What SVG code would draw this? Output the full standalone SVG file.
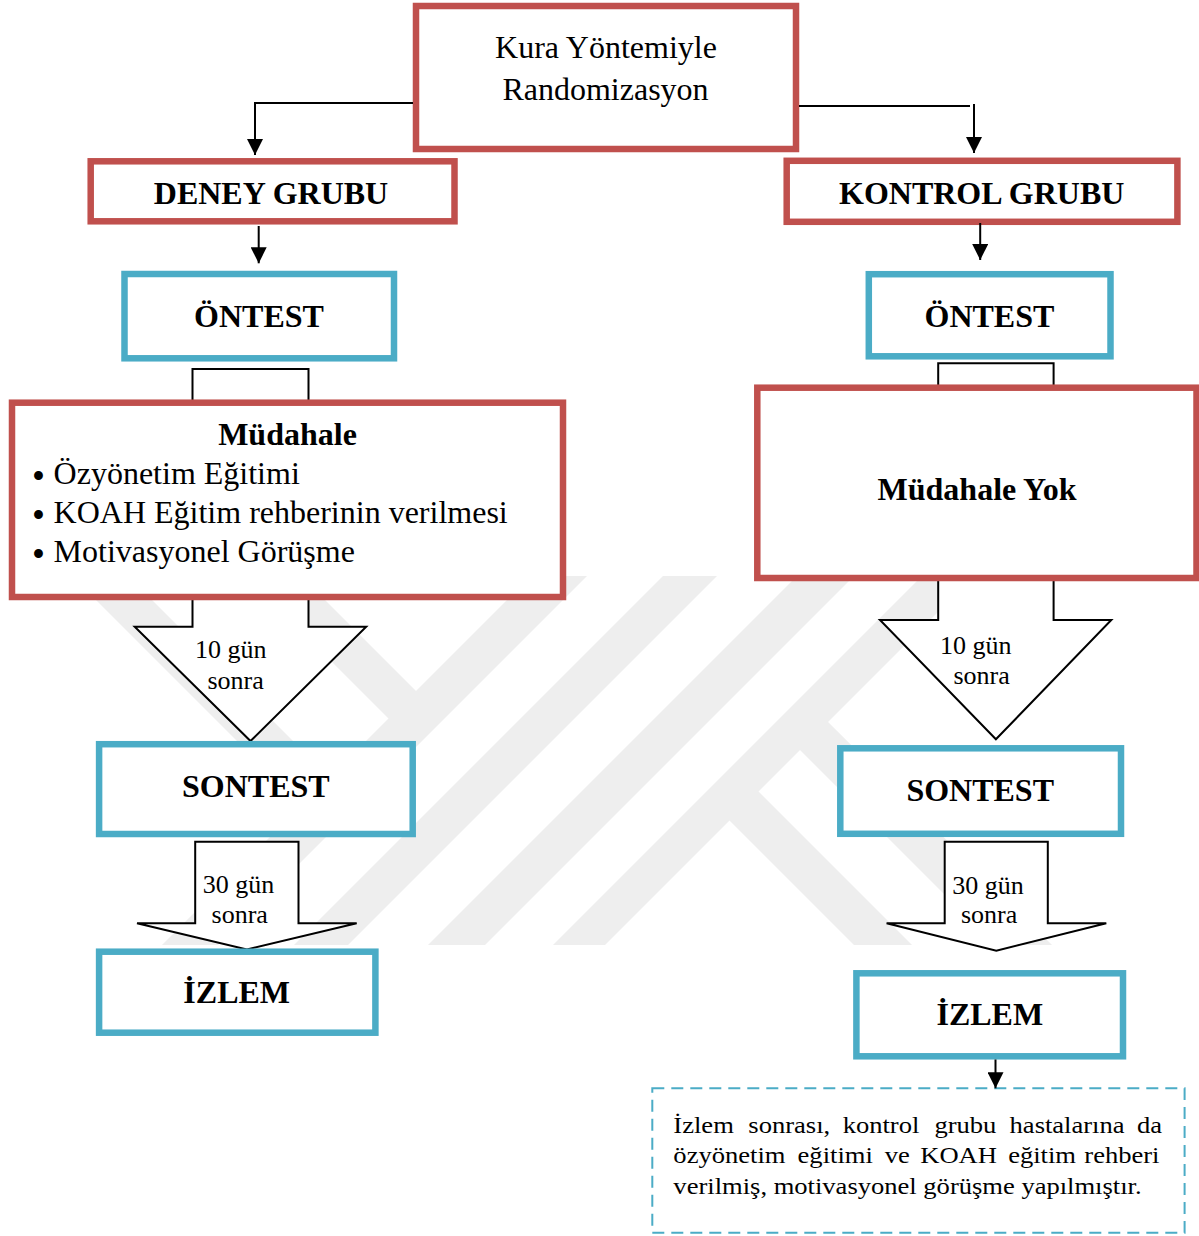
<svg xmlns="http://www.w3.org/2000/svg" width="1199" height="1236" viewBox="0 0 1199 1236">
<style>
.red{fill:#fff;stroke:#c0504d;stroke-width:6.5}
.blue{fill:#fff;stroke:#4bacc6;stroke-width:6.5}
.blk{fill:#fff;stroke:#000;stroke-width:2;stroke-linejoin:miter}
.ln{fill:none;stroke:#000;stroke-width:2}
.t{font-family:"Liberation Serif","Times New Roman",serif;fill:#000}
.b{font-weight:bold;font-size:32px;text-anchor:middle}
.n32{font-size:32px}
.n26{font-size:26px}
.n24{font-size:24px}
.bul{font-size:37px}
.wm{fill:#eeeeee}
</style>
<defs>
<clipPath id="wmclip"><rect x="0" y="576" width="1199" height="369"/></clipPath>
<marker id="ah" markerUnits="userSpaceOnUse" markerWidth="16" markerHeight="16" viewBox="0 0 16 16" refX="16" refY="8" orient="auto">
<path d="M0,0 L16,8 L0,16 Z" fill="#000"/>
</marker>
</defs>
<rect width="1199" height="1236" fill="#fff"/>
<g id="watermark" clip-path="url(#wmclip)">
<polygon class="wm" points="531,576 587,576 218,945 162,945"/>
<polygon class="wm" points="663,576 717,576 348,945 294,945"/>
<polygon class="wm" points="797,576 854,576 485,945 428,945"/>
<polygon class="wm" points="922,576 974,576 605,945 553,945"/>
<polygon class="wm" points="72,576 128,576 331,779 303,807"/>
<polygon class="wm" points="246,576 301,576 430,705 402.5,732.5"/>
<polygon class="wm" points="716.5,807.5 745.5,778.5 912,945 854,945"/>
<polygon class="wm" points="786,736 814,708 1052,945 995,945"/>
</g>
<g id="arrow-10-left">
<polygon class="blk" points="192.5,369 308.5,369 308.5,626.7 366.2,626.7 250.5,741 134.7,626.7 192.5,626.7"/>
<text class="t n26" x="195" y="658.3">10 gün</text>
<text class="t n26" x="207.5" y="689">sonra</text>
</g>
<g id="arrow-10-right">
<polygon class="blk" points="938.2,363.3 1053.6,363.3 1053.6,620 1111.3,620 995.9,739.3 880,620 938.2,620"/>
<text class="t n26" x="940" y="654">10 gün</text>
<text class="t n26" x="953.5" y="683.5">sonra</text>
</g>
<g id="arrow-30-left">
<polygon class="blk" points="195.2,841.7 298.5,841.7 298.5,923.3 356.7,923.3 246.9,949.5 137,923.3 195.2,923.3"/>
<text class="t n26" x="202.8" y="893.3">30 gün</text>
<text class="t n26" x="211.6" y="923.3">sonra</text>
</g>
<g id="arrow-30-right">
<polygon class="blk" points="944.7,841.7 1047.8,841.7 1047.8,923.3 1106.3,923.3 996.3,950.7 886.6,923.3 944.7,923.3"/>
<text class="t n26" x="952.3" y="894">30 gün</text>
<text class="t n26" x="961" y="923.3">sonra</text>
</g>
<g id="randomizasyon">
<rect class="red" x="416" y="6" width="380" height="143"/>
<text class="t n32" x="606" y="58" text-anchor="middle">Kura Yöntemiyle</text>
<text class="t n32" x="605.5" y="100" text-anchor="middle">Randomizasyon</text>
</g>
<g id="deney-grubu">
<rect class="red" x="90.7" y="161.3" width="363.8" height="60"/>
<text class="t b" x="271" y="203.5">DENEY GRUBU</text>
</g>
<g id="kontrol-grubu">
<rect class="red" x="786.7" y="160.8" width="390.7" height="61"/>
<text class="t b" x="981.7" y="203.5">KONTROL GRUBU</text>
</g>
<g id="ontest-left">
<rect class="blue" x="124.5" y="274" width="269.5" height="84.3"/>
<text class="t b" x="259" y="327">ÖNTEST</text>
</g>
<g id="ontest-right">
<rect class="blue" x="868.8" y="274.2" width="241.7" height="82.1"/>
<text class="t b" x="989.4" y="327">ÖNTEST</text>
</g>
<g id="mudahale">
<rect class="red" x="12" y="402.7" width="551" height="194.3"/>
<text class="t b" x="287.5" y="445">Müdahale</text>
<text class="t n32" y="484"><tspan class="bul" x="32" dy="5">•</tspan><tspan x="53.6" dy="-5">Özyönetim Eğitimi</tspan></text>
<text class="t n32" y="523.3"><tspan class="bul" x="32" dy="5">•</tspan><tspan x="53.6" dy="-5">KOAH Eğitim rehberinin verilmesi</tspan></text>
<text class="t n32" y="561.7"><tspan class="bul" x="32" dy="5">•</tspan><tspan x="53.6" dy="-5">Motivasyonel Görüşme</tspan></text>
</g>
<g id="mudahale-yok">
<rect class="red" x="757.3" y="387.7" width="439.2" height="190.3"/>
<text class="t b" x="977" y="500">Müdahale Yok</text>
</g>
<g id="sontest-left">
<rect class="blue" x="99.1" y="744.2" width="313.6" height="89.8"/>
<text class="t b" x="255.8" y="797.3">SONTEST</text>
</g>
<g id="sontest-right">
<rect class="blue" x="840.3" y="748.3" width="280.7" height="85.5"/>
<text class="t b" x="980.2" y="801">SONTEST</text>
</g>
<g id="izlem-left">
<rect class="blue" x="99.1" y="951.7" width="276.3" height="81"/>
<text class="t b" x="236.7" y="1003.3">İZLEM</text>
</g>
<g id="izlem-right">
<rect class="blue" x="856.4" y="973.3" width="266.6" height="83"/>
<text class="t b" x="989.8" y="1025">İZLEM</text>
</g>
<g id="note">
<rect x="652.3" y="1088.3" width="532.3" height="144.4" fill="#fff" stroke="#4bacc6" stroke-width="2" stroke-dasharray="12,7"/>
<g transform="matrix(1.107 0 0 1 0 0)">
<text class="t n24" y="1133.3"><tspan x="608.3">İzlem</tspan><tspan x="676">sonrası,</tspan><tspan x="761.2">kontrol</tspan><tspan x="844.1">grubu</tspan><tspan x="912">hastalarına</tspan><tspan x="1027">da</tspan></text>
<text class="t n24" y="1163.3"><tspan x="608.3">özyönetim</tspan><tspan x="720.5">eğitimi</tspan><tspan x="799.2">ve</tspan><tspan x="831.3">KOAH</tspan><tspan x="910.7">eğitim</tspan><tspan x="979.5">rehberi</tspan></text>
<text class="t n24" x="608.3" y="1194">verilmiş, motivasyonel görüşme yapılmıştır.</text>
</g>
</g>
<g id="connectors">
<path class="ln" d="M413,103 H255 V155" marker-end="url(#ah)"/>
<path class="ln" d="M799,106 H970"/>
<path class="ln" d="M974,104 V153" marker-end="url(#ah)"/>
<path class="ln" d="M258.7,226 V263.3" marker-end="url(#ah)"/>
<path class="ln" d="M980.2,223 V260" marker-end="url(#ah)"/>
<path class="ln" d="M995.5,1059.5 V1088.3" marker-end="url(#ah)"/>
</g>
</svg>
